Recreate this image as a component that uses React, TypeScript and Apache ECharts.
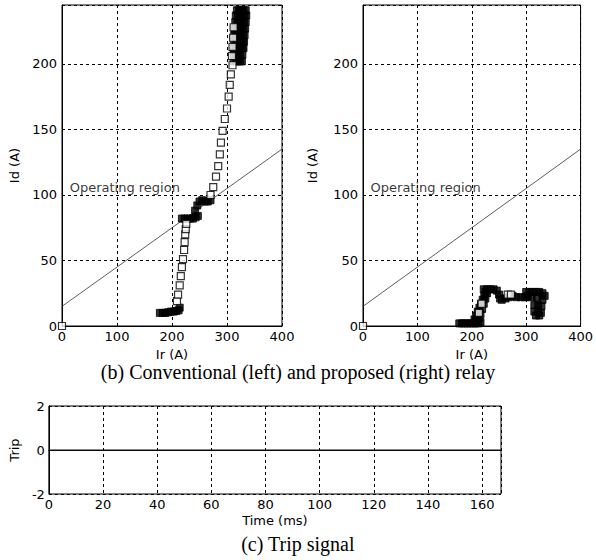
import React, { useEffect, useRef } from "react";
import * as echarts from "echarts";

// Operating characteristic line (Id vs Ir)
const opLineIr = [0, 400];
const opLineId = [15, 135];

// Conventional relay trajectory (left) — open squares
const leftOpen: number[][] = [
  [0, 0],
  [209, 19], [211, 24], [214, 31], [216, 38], [218, 45], [220, 51], [222, 58],
  [223, 64], [224, 70], [225, 74], [226, 78],
  [270, 100], [275, 106], [280, 114], [284, 122], [287, 131], [289, 140],
  [292, 149], [296, 158], [300, 166], [303, 175], [305, 184], [307, 192], [310, 199],
  [309, 206], [310, 213], [311, 220], [312, 228],
];
// Conventional relay trajectory (left) — densely overlapping samples
const leftDense: number[][] = [
  [178, 10], [183, 10], [188, 10], [193, 10.5], [198, 11], [203, 11], [208, 11.5], [212, 12], [214, 14],
  [218, 82], [223, 82], [228, 82], [233, 82], [238, 82], [243, 83], [247, 84],
  [242, 88], [246, 92], [250, 95], [255, 96], [260, 95], [265, 95], [270, 96],
  [312, 202], [316, 202], [320, 202], [324, 202], [327, 202],
  [312, 207], [316, 207], [320, 207], [324, 207], [328, 207],
  [312, 212], [316, 212], [320, 212], [324, 212], [328, 212], [330, 212],
  [313, 217], [317, 217], [321, 217], [325, 217], [329, 217], [331, 217],
  [313, 222], [317, 222], [321, 222], [325, 222], [329, 222], [332, 222],
  [314, 227], [318, 227], [322, 227], [326, 227], [330, 227], [333, 227],
  [315, 232], [319, 232], [323, 232], [327, 232], [331, 232], [334, 232],
  [316, 237], [320, 237], [324, 237], [328, 237], [332, 237], [335, 237],
  [318, 241], [322, 241], [326, 241], [330, 241], [334, 241],
];

// Proposed relay trajectory (right)
const rightOpen: number[][] = [
  [0, 0], [213, 10], [218, 17], [266, 24], [272, 24],
];
const rightDense: number[][] = [
  [177, 2], [182, 2], [187, 2], [192, 2], [197, 2], [202, 2], [207, 2], [212, 2], [216, 3],
  [205, 5], [208, 8], [211, 11], [214, 14], [217, 17], [220, 20], [223, 23], [225, 26],
  [213, 6], [216, 9], [219, 13], [222, 17], [225, 21], [228, 25],
  [222, 28], [228, 28], [234, 28], [240, 28], [246, 27], [250, 24], [252, 21],
  [255, 20], [262, 21], [268, 22], [275, 23], [282, 22], [290, 22], [297, 22], [303, 23],
  [300, 26], [306, 26], [312, 26], [318, 26], [324, 26], [330, 25], [334, 23],
  [300, 22], [310, 22], [320, 22], [330, 20],
  [315, 16], [322, 16], [328, 15], [315, 11], [322, 11], [327, 10], [318, 8], [324, 8],
];

// Trip signal
const tripTime = [0, 167];
const tripValue = [0, 0];

const regionLabel = "Operating region";
const regionAnchor = [13, 106];

const SANS = "DejaVu Sans";
const SERIF = "Liberation Serif";

function axisCommon(extra: any) {
  return {
    axisLine: { show: true, lineStyle: { color: "#000", width: 1 } },
    axisTick: { show: false },
    axisLabel: { color: "#000", fontSize: 13, fontFamily: SANS },
    splitLine: { show: true, lineStyle: { color: "#000", type: [3, 3], width: 1 } },
    nameTextStyle: { color: "#000", fontSize: 13, fontFamily: SANS },
    ...extra,
  };
}

export default function App() {
  const ref = useRef<HTMLDivElement>(null);
  useEffect(() => {
    if (!ref.current) return;
    const chart = echarts.init(ref.current, undefined, { renderer: "svg" });
    const grid = (left: number, top: number, width: number, height: number) => ({
      left, top, width, height, show: true, borderColor: "#000", borderWidth: 1, backgroundColor: "#fff",
    });
    const xIr = (gi: number) =>
      axisCommon({
        type: "value", gridIndex: gi, min: 0, max: 400, interval: 100,
        name: "Ir (A)", nameLocation: "middle", nameGap: 20,
        axisLabel: { color: "#000", fontSize: 13, fontFamily: SANS, margin: 4 },
      });
    const yId = (gi: number, gap: number) =>
      axisCommon({
        type: "value", gridIndex: gi, min: 0, max: 245, interval: 50,
        name: "Id (A)", nameLocation: "middle", nameGap: gap,
        axisLabel: { color: "#000", fontSize: 13, fontFamily: SANS, margin: 5, showMaxLabel: false },
      });
    const lineData = opLineIr.map((x, i) => [x, opLineId[i]]);
    const openStyle = { color: "#fff", borderColor: "#000", borderWidth: 1.2 };
    const denseStyle = { color: "#000", borderColor: "#000", borderWidth: 1 };
    const annot = (xi: number) => ({
      type: "scatter", xAxisIndex: xi, yAxisIndex: xi, data: [regionAnchor], symbolSize: 1,
      itemStyle: { color: "rgba(0,0,0,0)" }, silent: true, z: 5,
      label: { show: true, formatter: regionLabel, position: "right", distance: 0, color: "#000", fontSize: 13, fontFamily: SANS },
    });
    chart.setOption({
      animation: false,
      backgroundColor: "#fff",
      grid: [grid(62, 5, 220, 321), grid(363, 5, 220, 321), grid(43, 406, 458, 88)],
      xAxis: [
        xIr(0),
        xIr(1),
        axisCommon({
          type: "value", gridIndex: 2, min: 0, max: 167, interval: 20,
          name: "Time (ms)", nameLocation: "middle", nameGap: 20,
          axisLabel: { color: "#000", fontSize: 13, fontFamily: SANS, margin: 4, showMaxLabel: false },
        }),
      ],
      yAxis: [
        yId(0, 41),
        yId(1, 44),
        axisCommon({
          type: "value", gridIndex: 2, min: -2, max: 2, interval: 2,
          name: "Trip", nameLocation: "middle", nameGap: 17,
          axisLabel: { color: "#000", fontSize: 13, fontFamily: SANS, margin: 4 },
        }),
      ],
      graphic: [
        { type: "text", left: "center", top: 362, style: { text: "(b) Conventional (left) and proposed (right) relay", fontSize: 20, fontFamily: SERIF, fill: "#000" } },
        { type: "text", left: "center", top: 534, style: { text: "(c) Trip signal", fontSize: 20, fontFamily: SERIF, fill: "#000" } },
      ],
      series: [
        { type: "line", xAxisIndex: 0, yAxisIndex: 0, data: lineData, symbol: "none", lineStyle: { color: "#333", width: 0.8 }, z: 2 },
        { type: "scatter", xAxisIndex: 0, yAxisIndex: 0, data: leftDense, symbol: "rect", symbolSize: 7, itemStyle: denseStyle, clip: false, z: 3 },
        { type: "scatter", xAxisIndex: 0, yAxisIndex: 0, data: leftOpen, symbol: "rect", symbolSize: 7, itemStyle: openStyle, clip: false, z: 4 },
        annot(0),
        { type: "line", xAxisIndex: 1, yAxisIndex: 1, data: lineData, symbol: "none", lineStyle: { color: "#333", width: 0.8 }, z: 2 },
        { type: "scatter", xAxisIndex: 1, yAxisIndex: 1, data: rightDense, symbol: "rect", symbolSize: 7, itemStyle: denseStyle, clip: false, z: 3 },
        { type: "scatter", xAxisIndex: 1, yAxisIndex: 1, data: rightOpen, symbol: "rect", symbolSize: 7, itemStyle: openStyle, clip: false, z: 4 },
        annot(1),
        { type: "line", xAxisIndex: 2, yAxisIndex: 2, data: tripTime.map((t, i) => [t, tripValue[i]]), symbol: "none", lineStyle: { color: "#111", width: 1.2 }, z: 3 },
      ],
    });
    return () => chart.dispose();
  }, []);
  return (
    <div
      ref={ref}
      style={{ position: "absolute", left: 0, top: 0, width: 596, height: 560, background: "#fff" }}
    />
  );
}
